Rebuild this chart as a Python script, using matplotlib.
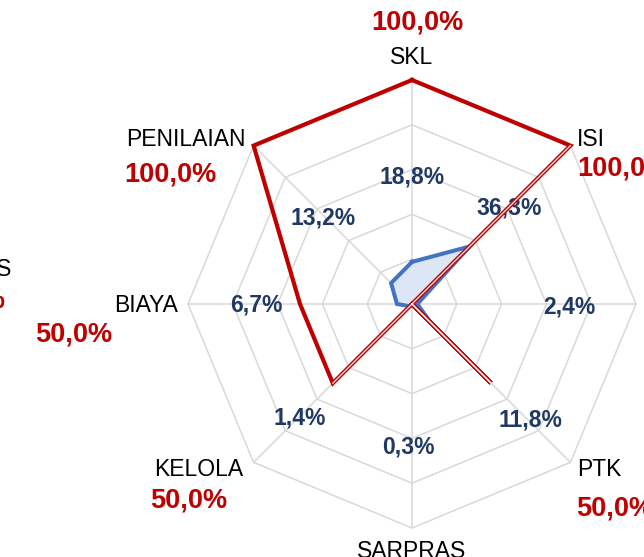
import numpy as np
import matplotlib
matplotlib.use("Agg")
import matplotlib.pyplot as plt

plt.rcParams['font.family'] = ['Liberation Sans', 'DejaVu Sans']

# data (clockwise from the top)
categories = ['SKL', 'ISI', 'PROSES', 'PTK', 'SARPRAS', 'KELOLA', 'BIAYA', 'PENILAIAN']
capaian = [18.8, 36.3, 2.4, 11.8, 0.3, 1.4, 6.7, 13.2]      # blue series
target = [100.0, 100.0, 0.0, 50.0, 0.0, 50.0, 50.0, 100.0]  # red series
grid_levels = [20, 40, 60, 80, 100]

BLUE_EDGE = '#4472C4'
BLUE_FILL = '#DCE6F4'
BLUE_TEXT = '#1F3864'
RED = '#C00000'
GRID = '#D9D9D9'

# pixel scale of the picture: centre at (412, 304), 100% = 224 px
S = 2.24
CX, CY = 412, 304


def px(x, y):
    return (x - CX) / S, (CY - y) / S


n = len(categories)
ang = np.pi / 2 - np.arange(n) * 2 * np.pi / n


def xy(vals):
    v = np.asarray(vals, dtype=float)
    return v * np.cos(ang), v * np.sin(ang)


fig = plt.figure(figsize=(6.44, 5.57), dpi=100)
ax = fig.add_axes([0, 0, 1, 1])
ax.set_xlim(-CX / S, (644 - CX) / S)
ax.set_ylim(-(557 - CY) / S, CY / S)
ax.axis('off')

# octagon grid
for lv in grid_levels:
    gx, gy = xy([lv] * n)
    ax.plot(np.append(gx, gx[0]), np.append(gy, gy[0]), color=GRID, lw=1.1, zorder=1)
ox, oy = xy([100] * n)
for i in range(n):
    ax.plot([0, ox[i]], [0, oy[i]], color=GRID, lw=1.1, zorder=1)

# blue series
bx, by = xy(capaian)
ax.fill(bx, by, color=BLUE_FILL, zorder=2)
ax.plot(np.append(bx, bx[0]), np.append(by, by[0]), color=BLUE_EDGE, lw=2.9,
        solid_joinstyle='miter', zorder=3)

# red series, segments touching the centre look hollow
rx, ry = xy(target)
rx_c, ry_c = np.append(rx, rx[0]), np.append(ry, ry[0])
ax.plot(rx_c, ry_c, color=RED, lw=3.0, solid_joinstyle='miter', zorder=4)
for i in range(n):
    j = (i + 1) % n
    if target[i] == 0 or target[j] == 0:
        ax.plot([rx[i], rx[j]], [ry[i], ry[j]], color='white', lw=1.0, alpha=0.85, zorder=5)

# category labels and red values (pixel anchors)
cat_pos = {
    'SKL': ((412, 57, 'center'), (417, 23, 'center')),
    'ISI': ((577, 140, 'left'), (577, 168, 'left')),
    'PTK': ((577, 470, 'left'), (576, 508, 'left')),
    'SARPRAS': ((412, 551, 'center'), None),
    'KELOLA': ((199, 470, 'center'), (189, 500, 'center')),
    'BIAYA': ((178, 305, 'right'), (74, 335, 'center')),
    'PENILAIAN': ((246, 140, 'right'), (170, 174, 'center')),
}
for c, v in zip(categories, target):
    if c not in cat_pos:
        continue
    (lx, ly, lha), red = cat_pos[c]
    ax.text(*px(lx, ly), c, ha=lha, va='center', fontsize=16.5, color='black')
    if red is not None:
        tx, ty, tha = red
        ax.text(*px(tx, ty), f'{v:.1f}%'.replace('.', ','), ha=tha, va='center',
                fontsize=19.5, fontweight='bold', color=RED)

# blue value labels
blue_pos = [(412, 177), (509, 208), (569, 307), (530, 420),
            (408, 447), (300, 418), (256, 305), (323, 218)]
for (lx, ly), v in zip(blue_pos, capaian):
    ax.text(*px(lx, ly), f'{v:.1f}%'.replace('.', ','), ha='center', va='center',
            fontsize=16.5, fontweight='bold', color=BLUE_TEXT)

# edge of the neighbouring chart on the left
ax.text(*px(12, 270), 'PROSES', ha='right', va='center', fontsize=16.5, color='black')
ax.text(*px(6, 300), '0,0%', ha='right', va='center', fontsize=19.5,
        fontweight='bold', color=RED)

fig.savefig('out.png', dpi=100)
